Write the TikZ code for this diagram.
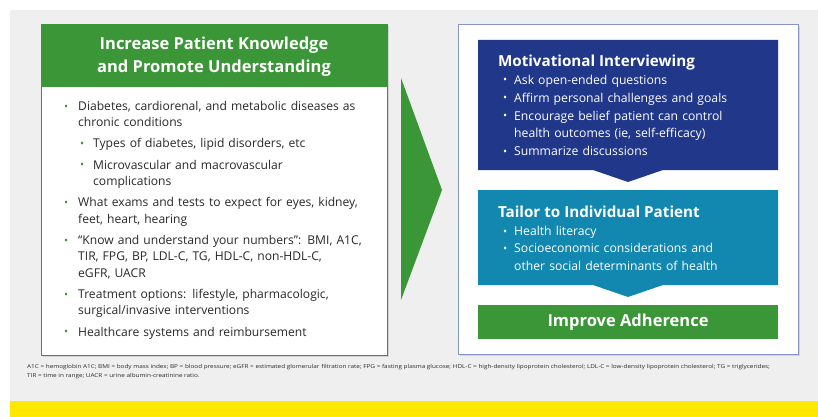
\documentclass[tikz,border=0pt]{standalone}
\usepackage{fontspec}
\setmainfont{Open Sans}
\usetikzlibrary{shadows}
\definecolor{kgreen}{RGB}{58,150,54}
\definecolor{knavy}{RGB}{32,55,138}
\definecolor{kteal}{RGB}{18,136,176}
\definecolor{kgrey}{RGB}{239,239,239}
\definecolor{kyellow}{RGB}{255,232,0}
\definecolor{ktext}{RGB}{40,40,40}
\definecolor{kframe}{RGB}{135,148,200}
\newcommand{\kdot}{\raisebox{0.3pt}{\scalebox{0.9}{\textbullet}}}
\newcommand{\kitem}[2]{\par\noindent\hangindent=14pt\hangafter=1\makebox[14pt][l]{\textcolor{#1}{\kdot}}#2}
\newcommand{\ksub}[2]{\par\noindent\hangindent=29pt\hangafter=1\hspace*{16pt}\makebox[13pt][l]{\textcolor{#1}{\kdot}}#2}
\newcommand{\kwitem}[1]{\par\noindent\hangindent=11pt\hangafter=1\makebox[11pt][l]{\kdot}#1}
\tikzset{
  boxshadow/.style={drop shadow={opacity=0.25,shadow xshift=1.5pt,shadow yshift=-1.5pt}},
  panel/.style={rectangle,inner sep=0pt,outer sep=0pt},
  listtext/.style={anchor=north west,inner sep=0pt,text width=330pt,align=left},
}
\begin{document}
\begin{tikzpicture}[x=1pt,y=-1pt]
\useasboundingbox (0,0) rectangle (818,417);
\fill[white] (0,0) rectangle (818,417);
\fill[kgrey] (10,10) rectangle (818,401);
\fill[kyellow] (10,401) rectangle (818,417);

% left box
\path[fill=white,draw=kgreen,line width=1pt,boxshadow] (41,25) rectangle (387,355);
\fill[kgreen] (41,25) rectangle (387,87);
\node[panel,text=white,font=\fontsize{16.5}{23}\selectfont\bfseries,align=center] (lhead) at (214,57)
  {Increase Patient Knowledge\\and Promote Understanding};
\node[listtext,text=ktext,font=\fontsize{12.1}{16.4}\selectfont] (llist) at (64,89) {%
\setlength{\parskip}{4.8pt}%
\kitem{kgreen}{Diabetes, cardiorenal, and metabolic diseases as\newline chronic conditions}
\ksub{kgreen}{Types of diabetes, lipid disorders, etc}
\ksub{kgreen}{Microvascular and macrovascular\newline complications}
\kitem{kgreen}{What exams and tests to expect for eyes, kidney,\newline feet, heart, hearing}
\kitem{kgreen}{``Know and understand your numbers'': BMI, A1C,\newline TIR, FPG, BP, LDL-C, TG, HDL-C, non-HDL-C,\newline eGFR, UACR}
\kitem{kgreen}{Treatment options: lifestyle, pharmacologic,\newline surgical/invasive interventions}
\kitem{kgreen}{Healthcare systems and reimbursement}\par};

% arrow
\fill[kgreen] (401,78) -- (442,190) -- (401,300) -- cycle;
\coordinate (atip) at (442,190);

% right box
\path[fill=white,draw=kframe,line width=1pt,boxshadow] (458,25) rectangle (798,354);
\fill[knavy] (478,40) -- (778,40) -- (778,170) -- (663,170) -- (628,182) -- (593,170) -- (478,170) -- cycle;
\fill[kteal] (478,190) -- (778,190) -- (778,285) -- (663,285) -- (628,297) -- (593,285) -- (478,285) -- cycle;
\fill[kgreen] (478,305) rectangle (778,339);

\node[panel,anchor=west,text=white,font=\fontsize{15.2}{18}\selectfont\bfseries] (mtitle) at (498,63) {Motivational Interviewing};
\node[listtext,text=white,font=\fontsize{12.2}{17.3}\selectfont] (mlist) at (503,66) {%
\setlength{\parskip}{0.7pt}%
\kwitem{Ask open-ended questions}
\kwitem{Affirm personal challenges and goals}
\kwitem{Encourage belief patient can control\newline health outcomes (ie, self-efficacy)}
\kwitem{Summarize discussions}\par};

\node[panel,anchor=west,text=white,font=\fontsize{15.2}{18}\selectfont\bfseries] (ttitle) at (498,212) {Tailor to Individual Patient};
\node[listtext,text=white,font=\fontsize{12.2}{17.3}\selectfont] (tlist) at (503,218) {%
\kwitem{Health literacy}
\kwitem{Socioeconomic considerations and\newline other social determinants of health}\par};

\node[panel,text=white,font=\fontsize{16.5}{19}\selectfont\bfseries] (adh) at (628,322) {Improve Adherence};

% footnote
\node[anchor=north west,inner sep=0pt,text=ktext,font=\fontsize{5.4}{9}\selectfont] (foot) at (27,364)
{\scalebox{1.18}[1]{A1C = hemoglobin A1C; BMI = body mass index; BP = blood pressure; eGFR = estimated glomerular filtration rate; FPG = fasting plasma glucose; HDL-C = high-density lipoprotein cholesterol; LDL-C = low-density lipoprotein cholesterol; TG = triglycerides;}};
\node[anchor=north west,inner sep=0pt,text=ktext,font=\fontsize{5.4}{9}\selectfont] (foot2) at (27,373)
{\scalebox{1.18}[1]{TIR = time in range; UACR = urine albumin-creatinine ratio.}};
\end{tikzpicture}
\end{document}
